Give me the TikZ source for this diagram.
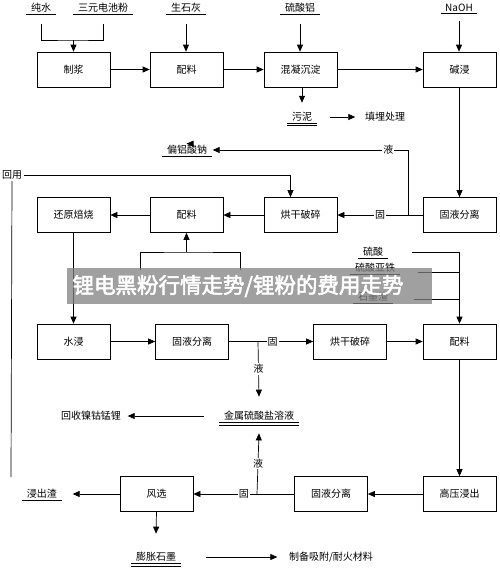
\documentclass[tikz,border=0pt]{standalone}
\usepackage{fontspec}
\newfontfamily\cjk{Noto Sans CJK SC}
\newfontfamily\wmfont[FakeBold=2.5]{Noto Sans CJK SC}
\usetikzlibrary{arrows.meta}

\tikzset{
  procbox/.style={draw, line width=0.7pt, minimum width=73pt, minimum height=35pt, inner sep=0pt},
  feed/.style={inner sep=1.5pt},
  flow/.style={-{Triangle[length=7pt,width=6pt]}, line width=0.7pt},
  wire/.style={line width=0.7pt},
  tag/.style={fill=white, inner sep=1pt},
}
% label with one or two lines under it
\newcommand{\feedlabel}[3]{\node[feed] (#1) at (#2) {#3};
  \draw[line width=0.6pt] ([xshift=-3pt]#1.south west) -- ([xshift=3pt]#1.south east);}
\newcommand{\feedlabelii}[3]{\feedlabel{#1}{#2}{#3}
  \draw[line width=0.6pt] ([xshift=-3pt,yshift=-2.5pt]#1.south west) -- ([xshift=3pt,yshift=-2.5pt]#1.south east);}

\begin{document}
\begin{tikzpicture}[x=1pt, y=-1pt, every node/.style={font=\cjk\fontsize{10}{12}\selectfont}]
  \useasboundingbox (0,0) rectangle (500,574);

  % process boxes
  \node[procbox] (zj)  at (73.5,69.5)  {制浆};
  \node[procbox] (pl1) at (186.5,69.5) {配料};
  \node[procbox] (hn)  at (300.5,69.5) {混凝沉淀};
  \node[procbox] (jj)  at (459.5,69.5) {碱浸};
  \node[procbox] (hy)  at (73.5,215)   {还原焙烧};
  \node[procbox] (pl2) at (186.5,215)  {配料};
  \node[procbox] (hg2) at (300.5,215)  {烘干破碎};
  \node[procbox] (gy2) at (459.5,215)  {固液分离};
  \node[procbox] (sj)  at (73.5,341.5) {水浸};
  \node[procbox] (gy3) at (192,341.5)  {固液分离};
  \node[procbox] (hg3) at (350,341.5)  {烘干破碎};
  \node[procbox] (pl3) at (459.5,341.5) {配料};
  \node[procbox] (fx)  at (156.5,494)  {风选};
  \node[procbox] (gy4) at (331,494)    {固液分离};
  \node[procbox] (gyj) at (459.5,494)  {高压浸出};

  % feeds and products
  \feedlabel{cs}{41,8}{纯水}
  \feedlabel{sy}{103,8}{三元电池粉}
  \feedlabel{shh}{186,8}{生石灰}
  \feedlabel{lsl}{300,8}{硫酸铝}
  \feedlabel{naoh}{459,8}{NaOH}
  \feedlabelii{wn}{302,117}{污泥}
  \node[feed] (tm) at (385,117) {填埋处理};
  \feedlabel{plsn}{187,150}{偏铝酸钠}
  \node[feed] (hyong) at (12,175) {回用};
  \feedlabel{ls}{373,252}{硫酸}
  \feedlabel{lsyt}{375,268}{硫酸亚铁}
  \feedlabel{smz}{373,297}{石墨渣}
  \feedlabelii{jssy}{259,416}{金属硫酸盐溶液}
  \node[feed] (hs) at (91,416) {回收镍钴锰锂};
  \feedlabel{jcz}{42,494}{浸出渣}
  \feedlabelii{pzsm}{156,557}{膨胀石墨}
  \node[feed] (zb) at (331,557) {制备吸附/耐火材料};

  % junctions
  \coordinate (j1) at (73.5,40);
  \coordinate (j2) at (408,215);
  \coordinate (j3) at (186.5,252);
  \coordinate (j4) at (258,341.5);
  \coordinate (j5) at (257,494);
  \coordinate (j6) at (459.5,252);
  \coordinate (in1) at (140,270);
  \coordinate (in2) at (240,270);
  \coordinate (hyend) at (11,477);

  % top row
  \draw[wire] ([yshift=-10pt]cs.south) |- (j1) -| ([yshift=-10pt]sy.south);
  \draw[flow] (j1) -- (zj.north);
  \draw[flow] ([yshift=-10pt]shh.south) -- (shh.south |- pl1.north);
  \draw[flow] ([yshift=-10pt]lsl.south) -- (lsl.south |- hn.north);
  \draw[flow] ([yshift=-8pt]naoh.south) -- (naoh.south |- jj.north);
  \draw[flow] (zj) -- (pl1);
  \draw[flow] (pl1) -- (hn);
  \draw[flow] (hn) -- (jj);
  \draw[flow] (hn.south -| wn) -- ([yshift=8pt]wn.north);
  \draw[flow] ([xshift=16pt]wn.east) -- ([xshift=-8pt]tm.west);
  \draw[flow] (plsn.north) -- (plsn.north -| pl1.south);
  \draw[flow] (jj) -- (gy2);

  % second row
  \draw[flow] (gy2.west) -- node[tag]{固} (hg2.east);
  \draw[flow] (j2) |- node[tag, pos=0.55]{液} ([xshift=4pt]plsn.east);
  \draw[flow] (hyong.east) -| ([xshift=-10pt]hg2.north);
  \draw[wire] (hyong.south) -- (hyend);
  \draw[flow] (hg2) -- (pl2);
  \draw[flow] (pl2) -- (hy);
  \draw[wire] (in1) |- (j3) -| (in2);
  \draw[flow] (j3) -- (pl2.south);
  \draw[flow] (hy) -- (sj);

  % third row
  \draw[flow] (sj) -- (gy3);
  \draw[flow] (gy3.east) -- node[tag, pos=0.52]{固} (hg3.west);
  \draw[flow] (j4) -- node[tag]{液} ([yshift=13pt]jssy.north);
  \draw[flow] (hg3) -- (pl3);
  \draw[wire] ([xshift=27pt]ls.east) -- (j6);
  \draw[wire] ([xshift=21pt]lsyt.east |- 0,272) -- (j6 |- 0,272);
  \draw[wire] ([xshift=24pt]smz.east |- 0,299) -- (j6 |- 0,299);
  \draw[flow] (j6) -- (pl3.north);
  \draw[flow] ([xshift=-18pt]jssy.west) -- ([xshift=5pt]hs.east);

  % bottom row
  \draw[flow] (pl3) -- (gyj);
  \draw[flow] (gyj) -- (gy4);
  \draw[flow] (gy4.west) -- node[tag]{固} (fx.east);
  \draw[flow] (j5) -- node[tag]{液} ([yshift=-11pt]jssy.south);
  \draw[flow] (fx.west) -- ([xshift=14pt]jcz.east);
  \draw[flow] (fx.south) -- ([yshift=17pt]pzsm.north);
  \draw[flow] ([xshift=28pt]pzsm.east) -- ([xshift=-10pt]zb.west);

  % banner over the picture
  \fill[black!50, opacity=0.75] (67,268) rectangle (432,304);
  \node[text=white, inner sep=0pt, font=\wmfont\fontsize{21.5}{22}\selectfont] (banner) at (238,286) {锂电黑粉行情走势/锂粉的费用走势};
\end{tikzpicture}
\end{document}
